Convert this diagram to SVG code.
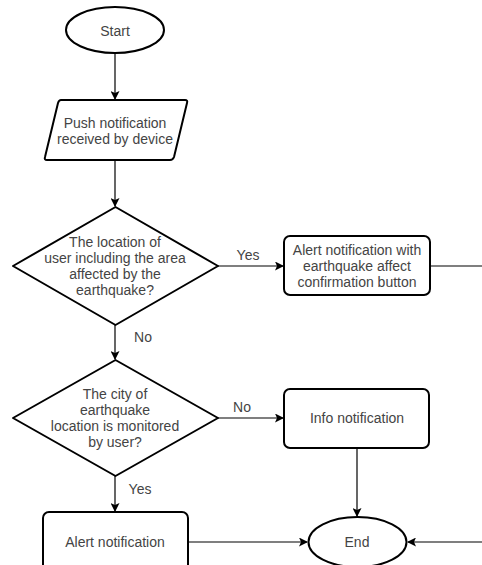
<svg xmlns="http://www.w3.org/2000/svg" width="482" height="565" viewBox="0 0 482 565">
<defs>
<marker id="arr" markerWidth="9" markerHeight="9" refX="8" refY="4.5" orient="auto" markerUnits="userSpaceOnUse">
<path d="M0,0 L9,4.5 L0,9 L2,4.5 Z" fill="#000"/>
</marker>
<style>
.s{fill:#fff;stroke:#000;stroke-width:2;stroke-linejoin:round}
.c{fill:none;stroke:#000;stroke-width:1.2}
.t{font-family:"Liberation Sans",Arial,sans-serif;font-size:14px;fill:#444;text-anchor:middle;dominant-baseline:central}
</style>
</defs>
<rect width="482" height="565" fill="#fff"/>
<g id="connectors">
<line class="c" x1="115" y1="53" x2="115" y2="99" marker-end="url(#arr)"/>
<line class="c" x1="115" y1="160" x2="115" y2="206" marker-end="url(#arr)"/>
<line class="c" x1="218" y1="266" x2="283" y2="266" marker-end="url(#arr)"/>
<line class="c" x1="430" y1="266" x2="482" y2="266"/>
<line class="c" x1="115" y1="325" x2="115" y2="359" marker-end="url(#arr)"/>
<line class="c" x1="218" y1="418" x2="283" y2="418" marker-end="url(#arr)"/>
<line class="c" x1="357" y1="448" x2="357" y2="516" marker-end="url(#arr)"/>
<line class="c" x1="115" y1="476" x2="115" y2="511" marker-end="url(#arr)"/>
<line class="c" x1="188" y1="542" x2="307" y2="542" marker-end="url(#arr)"/>
<line class="c" x1="482" y1="542" x2="408" y2="542" marker-end="url(#arr)"/>
<text class="t" x="248" y="255">Yes</text>
<text class="t" x="143" y="337">No</text>
<text class="t" x="242" y="407">No</text>
<text class="t" x="140" y="489">Yes</text>
</g>
<g id="start">
<ellipse class="s" cx="115" cy="30" rx="49" ry="23"/>
<text class="t" x="115" y="31">Start</text>
</g>
<g id="push">
<path class="s" d="M61,100 L185,100 Q188,100 187,103 L174,157 Q173,160 170,160 L47,160 Q44,160 45,157 L58,103 Q59,100 61,100 Z"/>
<text class="t" x="115" y="123">Push notification</text>
<text class="t" x="115" y="139">received by device</text>
</g>
<g id="decision1">
<path class="s" d="M115.5,207 L218,266 L115.5,325 L13,266 Z"/>
<text class="t" x="115" y="242">The location of</text>
<text class="t" x="115" y="258">user including the area</text>
<text class="t" x="115" y="274">affected by the</text>
<text class="t" x="115" y="290">earthquake?</text>
</g>
<g id="alert-confirm">
<rect class="s" x="284" y="236" width="146" height="59" rx="6"/>
<text class="t" x="357" y="250">Alert notification with</text>
<text class="t" x="357" y="266">earthquake affect</text>
<text class="t" x="357" y="282">confirmation button</text>
</g>
<g id="decision2">
<path class="s" d="M115.5,360 L218,418 L115.5,476 L13,418 Z"/>
<text class="t" x="115" y="394">The city of</text>
<text class="t" x="115" y="410">earthquake</text>
<text class="t" x="115" y="426">location is monitored</text>
<text class="t" x="115" y="442">by user?</text>
</g>
<g id="info">
<rect class="s" x="284" y="389" width="145" height="59" rx="6"/>
<text class="t" x="357" y="418">Info notification</text>
</g>
<g id="alert">
<rect class="s" x="43" y="512" width="145" height="70" rx="6"/>
<text class="t" x="115" y="542">Alert notification</text>
</g>
<g id="end">
<ellipse class="s" cx="357.5" cy="542" rx="49" ry="25"/>
<text class="t" x="357" y="542">End</text>
</g>
</svg>
